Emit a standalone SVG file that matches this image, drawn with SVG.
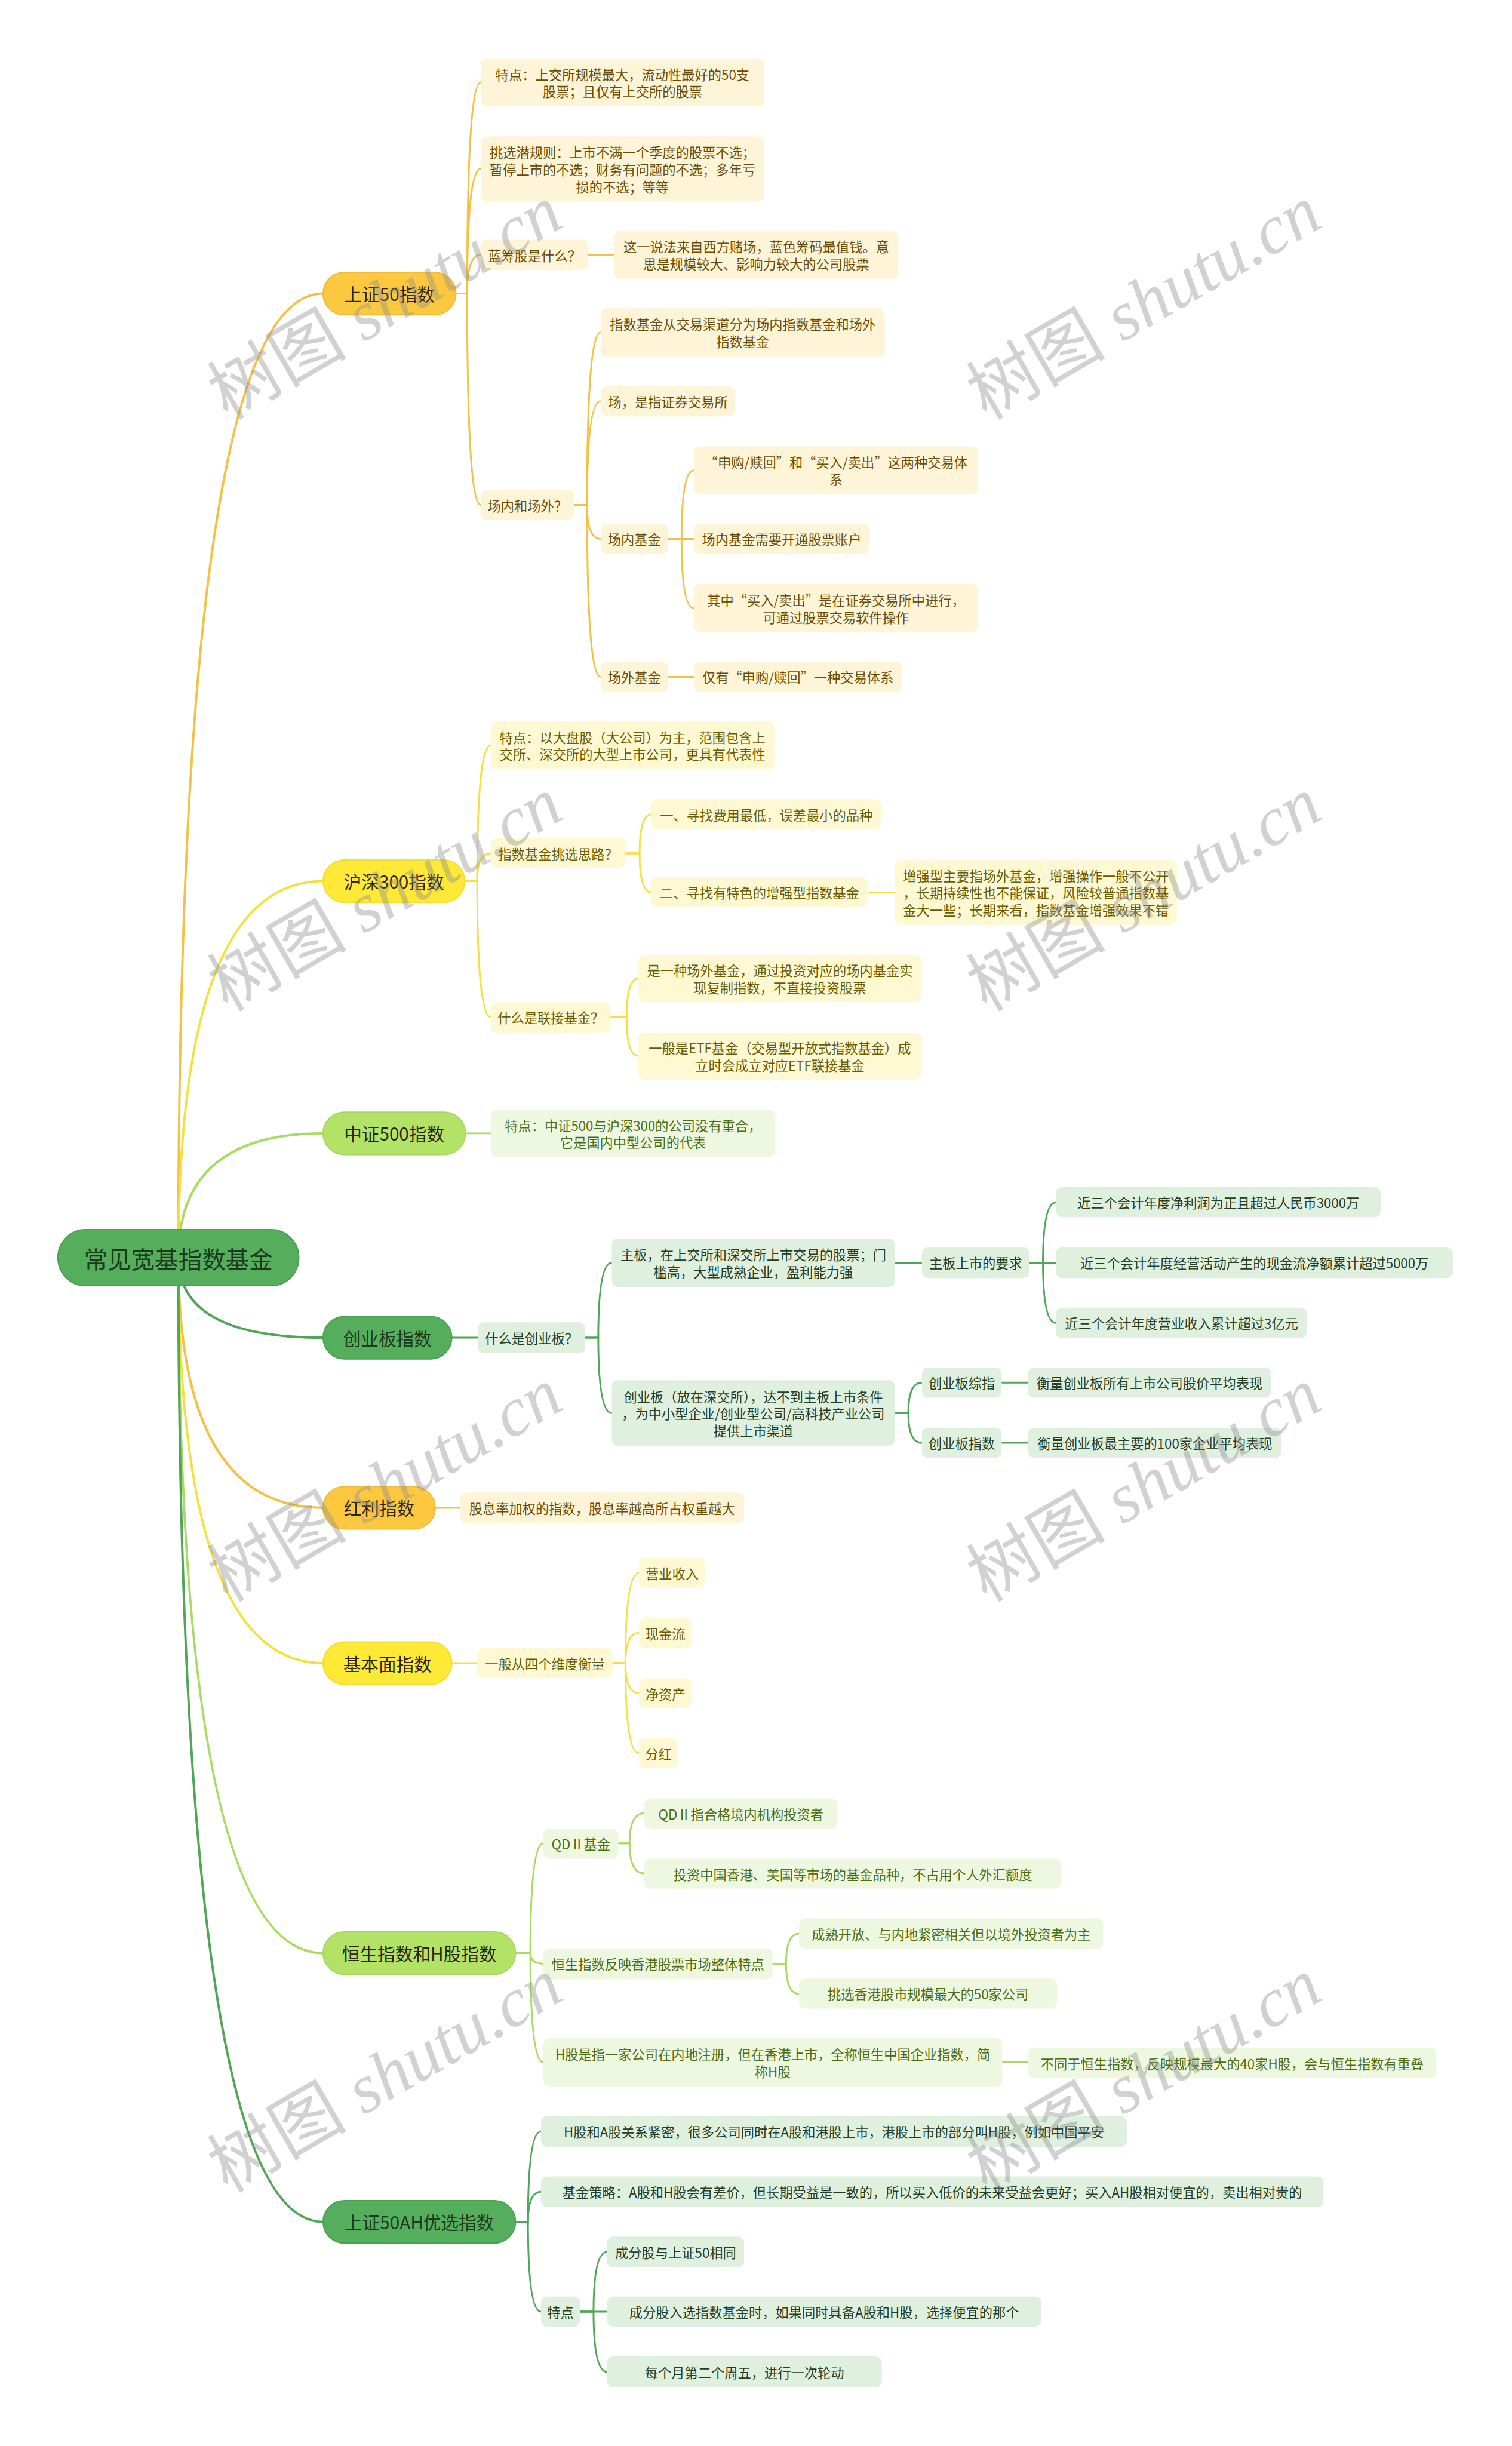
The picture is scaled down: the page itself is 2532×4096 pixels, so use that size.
<svg xmlns="http://www.w3.org/2000/svg" width="2532" height="4096" viewBox="0 0 2532 4096">
<style>
text{font-family:"Noto Sans CJK SC","Microsoft YaHei",sans-serif;text-anchor:middle;dominant-baseline:central}
.r{fill:#54AE5B;stroke:#4A9F51;stroke-width:2}
.m1{fill:#FBC83F;stroke:#F0BC38;stroke-width:2}
.m2{fill:#FDE936;stroke:#F2DD30;stroke-width:2}
.m3{fill:#B3E366;stroke:#A6D75B;stroke-width:2}
.m4{fill:#54AE5B;stroke:#4AA051;stroke-width:2}
.s1{fill:#FEF4D7}
.s2{fill:#FFF9D3}
.s3{fill:#EEF8E0}
.s4{fill:#E0F0DF}
.tr{font-size:40px;fill:#1D3A1F}
.tm{font-size:30px;fill:#2B2510}
.tg{font-size:30px;fill:#1E3A20}
.ts{font-size:22.5px}
.c1{fill:#6B4C04}
.c2{fill:#6A5B00}
.c3{fill:#4C6E12}
.c4{fill:#253D27}
.k{fill:none;stroke-linecap:round;stroke-linejoin:round}
.k1{stroke:#F4C143}
.k2{stroke:#F6E03A}
.k3{stroke:#A8DB62}
.k4{stroke:#4FA656}
.w0{stroke-width:4}
.w1{stroke-width:3}
.wm{font-family:"Liberation Serif","Noto Sans CJK SC",serif;font-size:118px;fill:#8f8f8f;opacity:0.4}
</style>
<rect x="0" y="0" width="2532" height="4096" fill="#ffffff"/>
<g transform="scale(0.989)">
<g id="connectors">
<g class="k w0">
<path class="k1" d="M302,2129 Q302,497 547,497"/>
<path class="k2" d="M302,2129 Q302,1492 547,1492"/>
<path class="k3" d="M302,2129 Q302,1919 547,1919"/>
<path class="k4" d="M302,2129 Q302,2265 547,2265"/>
<path class="k1" d="M302,2129 Q302,2553 547,2553"/>
<path class="k2" d="M302,2129 Q302,2816 547,2816"/>
<path class="k3" d="M302,2129 Q302,3307 547,3307"/>
<path class="k4" d="M302,2129 Q302,3762 547,3762"/>
</g>
<g class="k w1">
<path class="k1" d="M772,497 H791 Q791,139.5 814,139.5"/>
<path class="k1" d="M772,497 H791 Q791,286 814,286"/>
<path class="k1" d="M772,497 H791 Q791,431.5 814,431.5"/>
<path class="k1" d="M772,497 H791 Q791,855 814,855"/>
<path class="k1" d="M996,431.5 H1040"/>
<path class="k1" d="M972,855 H994 Q994,563 1017,563"/>
<path class="k1" d="M972,855 H994 Q994,679.5 1017,679.5"/>
<path class="k1" d="M972,855 H994 Q994,912.5 1017,912.5"/>
<path class="k1" d="M972,855 H994 Q994,1146 1017,1146"/>
<path class="k1" d="M1131,912.5 H1154 Q1154,796.5 1175,796.5"/>
<path class="k1" d="M1131,912.5 H1175"/>
<path class="k1" d="M1131,912.5 H1154 Q1154,1029.5 1175,1029.5"/>
<path class="k1" d="M1131,1146 H1175"/>

<path class="k2" d="M787,1492 H808 Q808,1262 831,1262"/>
<path class="k2" d="M787,1492 H808 Q808,1445 831,1445"/>
<path class="k2" d="M787,1492 H808 Q808,1722 831,1722"/>
<path class="k2" d="M1059,1445 H1083 Q1083,1379 1103,1379"/>
<path class="k2" d="M1059,1445 H1083 Q1083,1511 1103,1511"/>
<path class="k2" d="M1469,1511 H1515"/>
<path class="k2" d="M1034,1722 H1061 Q1061,1657 1081,1657"/>
<path class="k2" d="M1034,1722 H1061 Q1061,1788 1081,1788"/>

<path class="k3" d="M788,1919 H831"/>

<path class="k4" d="M765,2265 H809"/>
<path class="k4" d="M991,2265 H1013 Q1013,2138 1036,2138"/>
<path class="k4" d="M991,2265 H1013 Q1013,2392.5 1036,2392.5"/>
<path class="k4" d="M1515,2138 H1561"/>
<path class="k4" d="M1743,2138 H1766 Q1766,2036 1788,2036"/>
<path class="k4" d="M1743,2138 H1788"/>
<path class="k4" d="M1743,2138 H1766 Q1766,2240 1788,2240"/>
<path class="k4" d="M1515,2392.5 H1538 Q1538,2341 1561,2341"/>
<path class="k4" d="M1515,2392.5 H1538 Q1538,2443 1561,2443"/>
<path class="k4" d="M1696,2341 H1741"/>
<path class="k4" d="M1696,2443 H1741"/>

<path class="k1" d="M737,2553 H779"/>

<path class="k2" d="M765,2816 H808"/>
<path class="k2" d="M1037,2816 H1059 Q1059,2663.5 1082,2663.5"/>
<path class="k2" d="M1037,2816 H1059 Q1059,2765 1082,2765"/>
<path class="k2" d="M1037,2816 H1059 Q1059,2867 1082,2867"/>
<path class="k2" d="M1037,2816 H1059 Q1059,2968.5 1082,2968.5"/>

<path class="k3" d="M873,3307 H898 Q898,3121 920,3121"/>
<path class="k3" d="M873,3307 H898 Q898,3325 920,3325"/>
<path class="k3" d="M873,3307 H898 Q898,3492 920,3492"/>
<path class="k3" d="M1047,3121 H1066 Q1066,3070 1091,3070"/>
<path class="k3" d="M1047,3121 H1066 Q1066,3172 1091,3172"/>
<path class="k3" d="M1308,3325 H1331 Q1331,3274 1353,3274"/>
<path class="k3" d="M1308,3325 H1331 Q1331,3376 1353,3376"/>
<path class="k3" d="M1697,3492 H1741"/>

<path class="k4" d="M873,3762 H894 Q894,3609 916,3609"/>
<path class="k4" d="M873,3762 H894 Q894,3711 916,3711"/>
<path class="k4" d="M873,3762 H894 Q894,3914 916,3914"/>
<path class="k4" d="M982,3914 H1005 Q1005,3813 1028,3813"/>
<path class="k4" d="M982,3914 H1028"/>
<path class="k4" d="M982,3914 H1005 Q1005,4016 1028,4016"/>
</g>
</g>

<g id="root"><rect class="r" x="98" y="2082" width="408" height="95" rx="47"/><text class="tr" x="302" y="2129.5">常见宽基指数基金</text></g>

<g id="sz50"><rect class="m1" x="547" y="461" width="225" height="72" rx="36"/><text class="tm" x="659.5" y="497">上证50指数</text></g>
<g id="hs300"><rect class="m2" x="547" y="1456" width="240" height="72" rx="36"/><text class="tm" x="667" y="1492">沪深300指数</text></g>
<g id="zz500"><rect class="m3" x="547" y="1883" width="241" height="72" rx="36"/><text class="tm" x="667.5" y="1919">中证500指数</text></g>
<g id="cyb"><rect class="m4" x="547" y="2229" width="218" height="72" rx="36"/><text class="tg" x="656" y="2265">创业板指数</text></g>
<g id="hl"><rect class="m1" x="547" y="2517" width="190" height="72" rx="36"/><text class="tm" x="642" y="2553">红利指数</text></g>
<g id="jbm"><rect class="m2" x="547" y="2780" width="218" height="72" rx="36"/><text class="tm" x="656" y="2816">基本面指数</text></g>
<g id="hsh"><rect class="m3" x="547" y="3271" width="326" height="72" rx="36"/><text class="tm" x="710" y="3307">恒生指数和H股指数</text></g>
<g id="ah"><rect class="m4" x="547" y="3726" width="326" height="72" rx="36"/><text class="tg" x="710" y="3762">上证50AH优选指数</text></g>

<g id="sz50-1"><rect class="s1" x="814" y="99" width="480" height="81" rx="10"/><text class="ts c1"><tspan x="1054" y="125">特点：上交所规模最大，流动性最好的50支</tspan><tspan x="1054" y="154">股票；且仅有上交所的股票</tspan></text></g>
<g id="sz50-2"><rect class="s1" x="814" y="231" width="480" height="110" rx="10"/><text class="ts c1"><tspan x="1054" y="257">挑选潜规则：上市不满一个季度的股票不选；</tspan><tspan x="1054" y="286">暂停上市的不选；财务有问题的不选；多年亏</tspan><tspan x="1054" y="315">损的不选；等等</tspan></text></g>
<g id="sz50-3"><rect class="s1" x="814" y="406" width="182" height="51" rx="10"/><text class="ts c1" x="905" y="431.5">蓝筹股是什么？</text></g>
<g id="sz50-3a"><rect class="s1" x="1040" y="391" width="481" height="81" rx="10"/><text class="ts c1"><tspan x="1280.5" y="417">这一说法来自西方赌场，蓝色筹码最值钱。意</tspan><tspan x="1280.5" y="446">思是规模较大、影响力较大的公司股票</tspan></text></g>
<g id="sz50-4"><rect class="s1" x="814" y="829.5" width="158" height="51" rx="10"/><text class="ts c1" x="893" y="855">场内和场外？</text></g>
<g id="sz50-4a"><rect class="s1" x="1017" y="522" width="481" height="82" rx="10"/><text class="ts c1"><tspan x="1257.5" y="548.5">指数基金从交易渠道分为场内指数基金和场外</tspan><tspan x="1257.5" y="577.5">指数基金</tspan></text></g>
<g id="sz50-4b"><rect class="s1" x="1017" y="654" width="228" height="51" rx="10"/><text class="ts c1" x="1131" y="679.5">场，是指证券交易所</text></g>
<g id="sz50-4c"><rect class="s1" x="1017" y="887" width="114" height="51" rx="10"/><text class="ts c1" x="1074" y="912.5">场内基金</text></g>
<g id="sz50-4c1"><rect class="s1" x="1175" y="756" width="481" height="81" rx="10"/><text class="ts c1"><tspan x="1415.5" y="782">“申购/赎回”和“买入/卖出”这两种交易体</tspan><tspan x="1415.5" y="811">系</tspan></text></g>
<g id="sz50-4c2"><rect class="s1" x="1175" y="887" width="297" height="51" rx="10"/><text class="ts c1" x="1323.5" y="912.5">场内基金需要开通股票账户</text></g>
<g id="sz50-4c3"><rect class="s1" x="1175" y="989" width="481" height="81" rx="10"/><text class="ts c1"><tspan x="1415.5" y="1015">其中“买入/卖出”是在证券交易所中进行，</tspan><tspan x="1415.5" y="1044">可通过股票交易软件操作</tspan></text></g>
<g id="sz50-4d"><rect class="s1" x="1017" y="1120.5" width="114" height="51" rx="10"/><text class="ts c1" x="1074" y="1146">场外基金</text></g>
<g id="sz50-4d1"><rect class="s1" x="1175" y="1120.5" width="352" height="51" rx="10"/><text class="ts c1" x="1351" y="1146">仅有“申购/赎回”一种交易体系</text></g>

<g id="hs300-1"><rect class="s2" x="831" y="1221.5" width="480" height="81" rx="10"/><text class="ts c2"><tspan x="1071" y="1247.5">特点：以大盘股（大公司）为主，范围包含上</tspan><tspan x="1071" y="1276.5">交所、深交所的大型上市公司，更具有代表性</tspan></text></g>
<g id="hs300-2"><rect class="s2" x="831" y="1419" width="228" height="51" rx="10"/><text class="ts c2" x="945" y="1445">指数基金挑选思路？</text></g>
<g id="hs300-2a"><rect class="s2" x="1103" y="1353" width="389" height="51" rx="10"/><text class="ts c2" x="1297.5" y="1379">一、寻找费用最低，误差最小的品种</text></g>
<g id="hs300-2b"><rect class="s2" x="1103" y="1485" width="366" height="51" rx="10"/><text class="ts c2" x="1286" y="1511">二、寻找有特色的增强型指数基金</text></g>
<g id="hs300-2b1"><rect class="s2" x="1515" y="1456" width="478" height="110" rx="10"/><text class="ts c2"><tspan x="1754" y="1482">增强型主要指场外基金，增强操作一般不公开</tspan><tspan x="1754" y="1511">，长期持续性也不能保证，风险较普通指数基</tspan><tspan x="1754" y="1540">金大一些；长期来看，指数基金增强效果不错</tspan></text></g>
<g id="hs300-3"><rect class="s2" x="831" y="1697" width="203" height="51" rx="10"/><text class="ts c2" x="932.5" y="1722">什么是联接基金？</text></g>
<g id="hs300-3a"><rect class="s2" x="1081" y="1617" width="479" height="80" rx="10"/><text class="ts c2"><tspan x="1320.5" y="1642.5">是一种场外基金，通过投资对应的场内基金实</tspan><tspan x="1320.5" y="1671.5">现复制指数，不直接投资股票</tspan></text></g>
<g id="hs300-3b"><rect class="s2" x="1081" y="1748" width="479" height="80" rx="10"/><text class="ts c2"><tspan x="1320.5" y="1773.5">一般是ETF基金（交易型开放式指数基金）成</tspan><tspan x="1320.5" y="1802.5">立时会成立对应ETF联接基金</tspan></text></g>

<g id="zz500-1"><rect class="s3" x="831" y="1879" width="482" height="80" rx="10"/><text class="ts c3"><tspan x="1072" y="1904.5">特点：中证500与沪深300的公司没有重合，</tspan><tspan x="1072" y="1933.5">它是国内中型公司的代表</tspan></text></g>

<g id="cyb-1"><rect class="s4" x="809" y="2239" width="182" height="52" rx="10"/><text class="ts c4" x="900" y="2265">什么是创业板？</text></g>
<g id="cyb-1a"><rect class="s4" x="1036" y="2097" width="479" height="82" rx="10"/><text class="ts c4"><tspan x="1275.5" y="2123.5">主板，在上交所和深交所上市交易的股票；门</tspan><tspan x="1275.5" y="2152.5">槛高，大型成熟企业，盈利能力强</tspan></text></g>
<g id="cyb-1a1"><rect class="s4" x="1561" y="2112" width="182" height="52" rx="10"/><text class="ts c4" x="1652" y="2138">主板上市的要求</text></g>
<g id="cyb-r1"><rect class="s4" x="1788" y="2010" width="550" height="51" rx="10"/><text class="ts c4" x="2063" y="2035.5">近三个会计年度净利润为正且超过人民币3000万</text></g>
<g id="cyb-r2"><rect class="s4" x="1788" y="2112" width="672" height="52" rx="10"/><text class="ts c4" x="2124" y="2138">近三个会计年度经营活动产生的现金流净额累计超过5000万</text></g>
<g id="cyb-r3"><rect class="s4" x="1788" y="2214" width="425" height="52" rx="10"/><text class="ts c4" x="2000.5" y="2240">近三个会计年度营业收入累计超过3亿元</text></g>
<g id="cyb-1b"><rect class="s4" x="1036" y="2337" width="479" height="111" rx="10"/><text class="ts c4"><tspan x="1275.5" y="2363.5">创业板（放在深交所），达不到主板上市条件</tspan><tspan x="1275.5" y="2392.5">，为中小型企业/创业型公司/高科技产业公司</tspan><tspan x="1275.5" y="2421.5">提供上市渠道</tspan></text></g>
<g id="cyb-1b1"><rect class="s4" x="1561" y="2315.5" width="135" height="51" rx="10"/><text class="ts c4" x="1628.5" y="2341">创业板综指</text></g>
<g id="cyb-1b1a"><rect class="s4" x="1741" y="2315.5" width="411" height="51" rx="10"/><text class="ts c4" x="1946.5" y="2341">衡量创业板所有上市公司股价平均表现</text></g>
<g id="cyb-1b2"><rect class="s4" x="1561" y="2417.5" width="135" height="51" rx="10"/><text class="ts c4" x="1628.5" y="2443">创业板指数</text></g>
<g id="cyb-1b2a"><rect class="s4" x="1741" y="2417.5" width="429" height="51" rx="10"/><text class="ts c4" x="1955.5" y="2443">衡量创业板最主要的100家企业平均表现</text></g>

<g id="hl-1"><rect class="s1" x="779" y="2527" width="481" height="52" rx="10"/><text class="ts c1" x="1019.5" y="2553">股息率加权的指数，股息率越高所占权重越大</text></g>

<g id="jbm-1"><rect class="s2" x="808" y="2790" width="229" height="51" rx="10"/><text class="ts c2" x="922.5" y="2815.5">一般从四个维度衡量</text></g>
<g id="jbm-1a"><rect class="s2" x="1082" y="2638" width="112" height="51" rx="10"/><text class="ts c2" x="1138" y="2663.5">营业收入</text></g>
<g id="jbm-1b"><rect class="s2" x="1082" y="2739" width="89" height="52" rx="10"/><text class="ts c2" x="1126.5" y="2765">现金流</text></g>
<g id="jbm-1c"><rect class="s2" x="1082" y="2842" width="89" height="51" rx="10"/><text class="ts c2" x="1126.5" y="2867.5">净资产</text></g>
<g id="jbm-1d"><rect class="s2" x="1082" y="2943" width="66" height="51" rx="10"/><text class="ts c2" x="1115" y="2968.5">分红</text></g>

<g id="hsh-1"><rect class="s3" x="920" y="3096" width="127" height="51" rx="10"/><text class="ts c3" x="983.5" y="3121.5">QDⅡ基金</text></g>
<g id="hsh-1a"><rect class="s3" x="1091" y="3045" width="327" height="51" rx="10"/><text class="ts c3" x="1254.5" y="3070.5">QDⅡ指合格境内机构投资者</text></g>
<g id="hsh-1b"><rect class="s3" x="1091" y="3147" width="706" height="51" rx="10"/><text class="ts c3" x="1444" y="3172.5">投资中国香港、美国等市场的基金品种，不占用个人外汇额度</text></g>
<g id="hsh-2"><rect class="s3" x="920" y="3299" width="388" height="52" rx="10"/><text class="ts c3" x="1114" y="3325">恒生指数反映香港股票市场整体特点</text></g>
<g id="hsh-2a"><rect class="s3" x="1353" y="3248" width="515" height="52" rx="10"/><text class="ts c3" x="1610.5" y="3274">成熟开放、与内地紧密相关但以境外投资者为主</text></g>
<g id="hsh-2b"><rect class="s3" x="1353" y="3350" width="437" height="51" rx="10"/><text class="ts c3" x="1571.5" y="3375.5">挑选香港股市规模最大的50家公司</text></g>
<g id="hsh-3"><rect class="s3" x="920" y="3451" width="777" height="82" rx="10"/><text class="ts c3"><tspan x="1308.5" y="3477.5">H股是指一家公司在内地注册，但在香港上市，全称恒生中国企业指数，简</tspan><tspan x="1308.5" y="3506.5">称H股</tspan></text></g>
<g id="hsh-3a"><rect class="s3" x="1741" y="3467" width="691" height="52" rx="10"/><text class="ts c3" x="2086.5" y="3493">不同于恒生指数，反映规模最大的40家H股，会与恒生指数有重叠</text></g>

<g id="ah-1"><rect class="s4" x="916" y="3583" width="992" height="52" rx="10"/><text class="ts c4" x="1412" y="3609">H股和A股关系紧密，很多公司同时在A股和港股上市，港股上市的部分叫H股，例如中国平安</text></g>
<g id="ah-2"><rect class="s4" x="916" y="3685" width="1325" height="52" rx="10"/><text class="ts c4" x="1578.5" y="3711">基金策略：A股和H股会有差价，但长期受益是一致的，所以买入低价的未来受益会更好；买入AH股相对便宜的，卖出相对贵的</text></g>
<g id="ah-3"><rect class="s4" x="916" y="3888.5" width="66" height="51" rx="10"/><text class="ts c4" x="949" y="3914">特点</text></g>
<g id="ah-3a"><rect class="s4" x="1028" y="3787" width="232" height="52" rx="10"/><text class="ts c4" x="1144" y="3813">成分股与上证50相同</text></g>
<g id="ah-3b"><rect class="s4" x="1028" y="3888.5" width="735" height="51" rx="10"/><text class="ts c4" x="1395.5" y="3914">成分股入选指数基金时，如果同时具备A股和H股，选择便宜的那个</text></g>
<g id="ah-3c"><rect class="s4" x="1028" y="3990" width="465" height="52" rx="10"/><text class="ts c4" x="1260.5" y="4016">每个月第二个周五，进行一次轮动</text></g>

<g id="watermark">
<text class="wm" transform="translate(652,512) rotate(-30)">树图 <tspan font-style="italic">shutu.cn</tspan></text>
<text class="wm" transform="translate(1937,512) rotate(-30)">树图 <tspan font-style="italic">shutu.cn</tspan></text>
<text class="wm" transform="translate(652,1514) rotate(-30)">树图 <tspan font-style="italic">shutu.cn</tspan></text>
<text class="wm" transform="translate(1937,1514) rotate(-30)">树图 <tspan font-style="italic">shutu.cn</tspan></text>
<text class="wm" transform="translate(652,2514) rotate(-30)">树图 <tspan font-style="italic">shutu.cn</tspan></text>
<text class="wm" transform="translate(1937,2514) rotate(-30)">树图 <tspan font-style="italic">shutu.cn</tspan></text>
<text class="wm" transform="translate(652,3514) rotate(-30)">树图 <tspan font-style="italic">shutu.cn</tspan></text>
<text class="wm" transform="translate(1937,3514) rotate(-30)">树图 <tspan font-style="italic">shutu.cn</tspan></text>
</g>
</g>
</svg>
